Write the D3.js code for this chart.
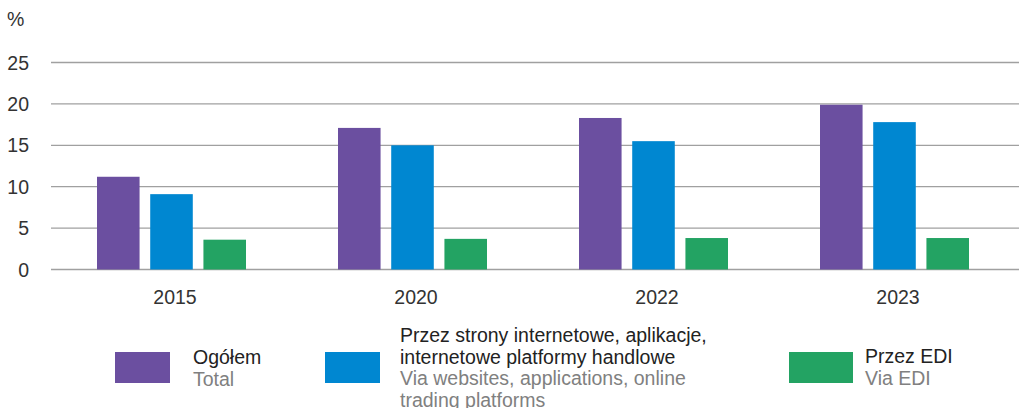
<!DOCTYPE html>
<html><head><meta charset="utf-8">
<script src="https://cdn.jsdelivr.net/npm/d3@7"></script>
<style>body{margin:0;background:#fff}svg{display:block}text{font-family:"Liberation Sans",Arial,sans-serif}</style>
</head><body><svg id="c" width="1019" height="408"></svg>
<script>
const years = ["2015","2020","2022","2023"];
const seriesKeys = ["total","web","edi"];
const totalVals = [11.2, 17.1, 18.3, 19.9];
const webVals = [9.1, 15.0, 15.5, 17.8];
const ediVals = [3.6, 3.7, 3.8, 3.8];
const yTicks = [0,5,10,15,20,25];
const colors = ["#6B4FA0","#0087D1","#23A363"];
const legendPl = [["Ogółem"],["Przez strony internetowe, aplikacje,","internetowe platformy handlowe"],["Przez EDI"]];
const legendEn = [["Total"],["Via websites, applications, online","trading platforms"],["Via EDI"]];

const FS = 19.5;
const svg = d3.select("#c");
const x0 = d3.scaleBand().domain(years).range([51,1015]).padding(0);
const x1 = d3.scaleBand().domain(seriesKeys).range([46, x0.bandwidth()-46]).paddingInner(0.2);
const y = d3.scaleLinear().domain([0,25]).range([269.5,62.5]);
const vals = [totalVals, webVals, ediVals];

// gridlines
svg.append("g").selectAll("line").data(yTicks).join("line")
  .attr("x1",51).attr("x2",1019)
  .attr("y1",d=>y(d)).attr("y2",d=>y(d))
  .attr("stroke","#a0a0a0").attr("stroke-width",1.3);

// y axis labels
const yAxis = d3.axisLeft(y).tickValues(yTicks).tickSize(0).tickPadding(0);
const ga = svg.append("g").attr("transform","translate(29,0)").call(yAxis);
ga.select(".domain").remove();
ga.selectAll("text").attr("font-size",FS).attr("fill","#333").attr("font-family","Liberation Sans, Arial, sans-serif").attr("dy","0.34em");

svg.append("text").attr("x",7).attr("y",26).attr("font-size",FS).attr("fill","#333").text("%");

// bars
years.forEach((yr,i)=>{
  const g = svg.append("g").attr("transform",`translate(${x0(yr)},0)`);
  g.selectAll("rect").data(seriesKeys.map((k,j)=>({k,v:vals[j][i],c:colors[j]}))).join("rect")
    .attr("x",d=>x1(d.k)).attr("width",x1.bandwidth())
    .attr("y",d=>y(d.v)).attr("height",d=>y(0)-y(d.v))
    .attr("fill",d=>d.c);
});

// x axis labels
const xAxis = d3.axisBottom(x0).tickSize(0).tickPadding(0);
const gx = svg.append("g").attr("transform","translate(3.5,290)").call(xAxis);
gx.select(".domain").remove();
gx.selectAll("text").attr("font-size",FS).attr("fill","#333").attr("font-family","Liberation Sans, Arial, sans-serif");

// legend
const legX = [115, 325, 789];
const legW = [55, 55, 64];
const txtX = [193, 400, 865];
const plStart = [364, 342, 363];
legX.forEach((lx,i)=>{
  svg.append("rect").attr("x",lx).attr("y",352).attr("width",legW[i]).attr("height",31).attr("fill",colors[i]);
  let yy = plStart[i];
  legendPl[i].forEach(t=>{
    svg.append("text").attr("x",txtX[i]).attr("y",yy).attr("font-size",FS).attr("fill","#222").text(t);
    yy += 21.5;
  });
  legendEn[i].forEach(t=>{
    svg.append("text").attr("x",txtX[i]).attr("y",yy).attr("font-size",FS).attr("fill","#808080").text(t);
    yy += 21.5;
  });
});
</script></body></html>
